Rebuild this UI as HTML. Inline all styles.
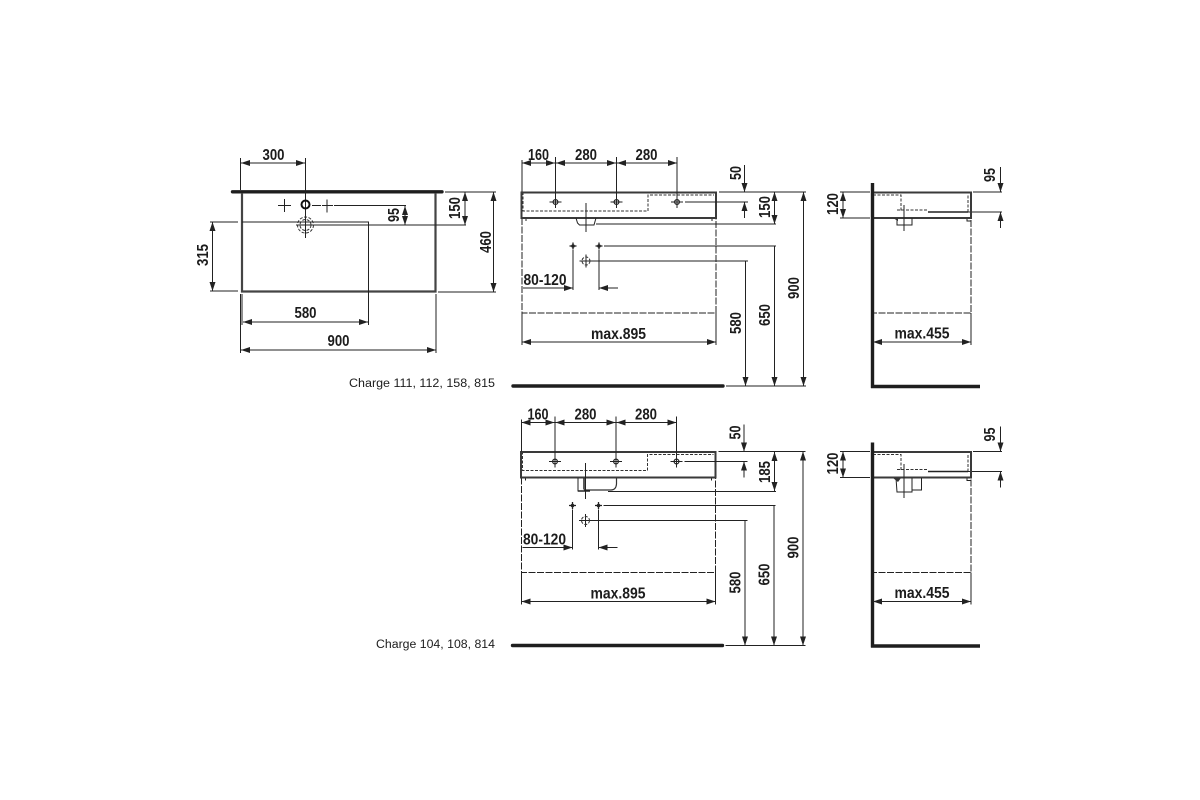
<!DOCTYPE html>
<html><head><meta charset="utf-8"><title>Technical drawing</title>
<style>
html,body{margin:0;padding:0;background:#fff;width:1200px;height:800px;overflow:hidden}
svg{display:block}
text{font-family:"Liberation Sans",sans-serif;fill:#1c1c1c}
.d{font-weight:bold;font-size:15.5px;text-anchor:middle}
.c{font-size:11.5px;text-anchor:end}
.l{fill:none;stroke:#222;stroke-width:1}
.a{fill:none;stroke:#222;stroke-width:1;marker-end:url(#ar)}
.b{fill:none;stroke:#222;stroke-width:1;marker-start:url(#ar2);marker-end:url(#ar)}
.t{fill:none;stroke:#3a3a3a;stroke-width:2}
.h{fill:none;stroke:#1e1e1e;stroke-width:3.4;stroke-linecap:round}
.w{fill:none;stroke:#222;stroke-width:1;stroke-dasharray:7 1.5}
.s{fill:none;stroke:#333;stroke-width:1;stroke-dasharray:3 1.5}
</style></head><body>
<svg width="1200" height="800" viewBox="0 0 1200 800" xmlns="http://www.w3.org/2000/svg">
<defs>
<marker id="ar" markerUnits="userSpaceOnUse" markerWidth="10" markerHeight="6" refX="9" refY="3" orient="auto"><path d="M0 0L9 3L0 6z" fill="#222"/></marker>
<marker id="ar2" markerUnits="userSpaceOnUse" markerWidth="10" markerHeight="6" refX="0" refY="3" orient="auto"><path d="M9 0L0 3L9 6z" fill="#222"/></marker>
<g id="hx"><path class="l" d="M-6 0H6M0-6V6"/><circle r="2.4" fill="none" stroke="#222" stroke-width="1.2"/></g>
<g id="sx"><path class="l" d="M-3.500 0H3.500M0-3.500V3.500" style="stroke-width:1.300"/><circle r="1.800" fill="#222"/></g>
<g id="bx"><path class="l" d="M-6.500 0H6.500M0-6.500V6.500"/><circle r="4" class="s"/></g>
<g id="front">
<path class="s" d="M523 0V19H648V3H714"/>
<path class="w" d="M522 26V121H716V26"/>
<path class="l" d="M522 26h4v3M716 26h-4v3"/>
<use href="#hx" x="555.500" y="10"/><use href="#hx" x="616.500" y="10"/><use href="#hx" x="677" y="10"/>
<use href="#sx" x="573" y="54"/><use href="#sx" x="599" y="54"/><use href="#bx" x="586" y="69"/>
<path class="t" d="M521.500 26V0.500H716V26H521.500z"/>
<path class="l" d="M522-32V0M555.500-35V10M616.500-35V10M677-35V10"/>
<path class="b" d="M522-29H555"/><path class="b" d="M556-29H616"/><path class="b" d="M617-29H677"/>
<path class="l" d="M719 0H806M685 10H748"/>
<path class="a" d="M744.500-27V0"/><path class="a" d="M744.500 26V10"/>
<path class="l" d="M604 54H776M592 69H748"/>
<path class="a" d="M745.500 69V194"/><path class="a" d="M774.500 54V194"/><path class="b" d="M803.500 0V194"/>
<path class="l" d="M573 58V98M599 58V98M726 194H806M522 121V153M716 121V153"/>
<path class="a" d="M523 96H573"/><path class="a" d="M618 96H599"/>
<path class="b" d="M522 150H716"/>
<path class="h" d="M513 194H723"/>
<text class="d" textLength="21" lengthAdjust="spacingAndGlyphs" x="538.500" y="-32">160</text>
<text class="d" textLength="22" lengthAdjust="spacingAndGlyphs" x="586" y="-32">280</text>
<text class="d" textLength="22" lengthAdjust="spacingAndGlyphs" x="646.500" y="-32">280</text>
<text class="d" textLength="43" lengthAdjust="spacingAndGlyphs" x="545" y="93">80-120</text>
<text class="d" textLength="55" lengthAdjust="spacingAndGlyphs" x="618.500" y="147">max.895</text>
<text class="d" textLength="14" lengthAdjust="spacingAndGlyphs" transform="translate(741,-19) rotate(-90)">50</text>
<text class="d" textLength="22" lengthAdjust="spacingAndGlyphs" transform="translate(741,131) rotate(-90)">580</text>
<text class="d" textLength="22" lengthAdjust="spacingAndGlyphs" transform="translate(770,123) rotate(-90)">650</text>
<text class="d" textLength="22" lengthAdjust="spacingAndGlyphs" transform="translate(799,96) rotate(-90)">900</text>
</g>
<g id="side">
<path class="s" d="M873 3H901V18H897M897 18H928"/>
<path class="s" d="M968 20V3"/>
<path class="l" d="M928 20H1002M973 0H1002"/>
<path d="M928 20H968" stroke="#222" stroke-width="1.600"/>
<path class="w" d="M971 28V121H873"/>
<path class="l" d="M967 26v3h4"/>
<path class="t" d="M873 0.500H971V26H873"/>
<path class="h" style="stroke-linecap:butt" d="M872.500-9V196M871 194.500H980"/>
<path class="a" d="M1000.500-25V0"/><path class="a" d="M1000.500 36V20"/>
<path class="b" d="M843 0V26"/>
<path class="l" d="M840 0H870M840 26H870M971 121V153"/>
<path class="b" d="M873 150H971"/>
<text class="d" textLength="14" lengthAdjust="spacingAndGlyphs" transform="translate(995,-17) rotate(-90)">95</text>
<text class="d" textLength="22" lengthAdjust="spacingAndGlyphs" transform="translate(838,12) rotate(-90)">120</text>
<text class="d" textLength="55" lengthAdjust="spacingAndGlyphs" x="922" y="146.500">max.455</text>
</g>
</defs>

<!-- Top view -->
<path class="h" d="M232.500 191.800H442"/>
<path d="M242 193V291.500H435.500V193" fill="none" stroke="#444" stroke-width="2.200"/>
<path class="l" d="M242 222H368.500V291"/>
<path class="l" d="M240.500 158V190M305.500 158V236M368.500 291V325M242 294V325M240.500 294V353M436 294V353M210 222H238M210 291H238M445 192H496M438 292H496M296 225H320M312 205.500H321M334 205.500H406M320 225H466"/>
<circle cx="305.500" cy="204.500" r="4" fill="none" stroke="#111" stroke-width="2"/>
<path class="l" d="M278 205.500H291M284.500 199V212M322 205.500H333M327 199.500V212.500"/>
<circle cx="305.500" cy="225" r="8" class="s"/><circle cx="305.500" cy="225" r="5.500" class="s"/>
<path class="l" d="M305.500 217V238"/>
<path class="b" d="M241 163H305"/>
<path class="b" d="M243 322H368"/>
<path class="b" d="M241 350H436"/>
<path class="b" d="M212.500 222V291"/>
<path class="b" d="M465 192V225"/>
<path class="b" d="M493.500 192V292"/>
<path class="b" d="M405 206V225"/>
<text class="d" textLength="22" lengthAdjust="spacingAndGlyphs" x="273.500" y="160">300</text>
<text class="d" textLength="22" lengthAdjust="spacingAndGlyphs" x="305.500" y="318">580</text>
<text class="d" textLength="22" lengthAdjust="spacingAndGlyphs" x="338.500" y="346">900</text>
<text class="d" textLength="22" lengthAdjust="spacingAndGlyphs" transform="translate(208,255) rotate(-90)">315</text>
<text class="d" textLength="14" lengthAdjust="spacingAndGlyphs" transform="translate(399,215) rotate(-90)">95</text>
<text class="d" textLength="22" lengthAdjust="spacingAndGlyphs" transform="translate(460,208) rotate(-90)">150</text>
<text class="d" textLength="22" lengthAdjust="spacingAndGlyphs" transform="translate(491,242) rotate(-90)">460</text>

<!-- Row 1 -->
<use href="#front" x="0" y="192"/>
<use href="#side" x="0" y="192"/>
<path class="l" d="M576 218l1.500 5 2 2H594l2-7M586 203V232M596 224H776"/>
<path class="l" d="M897 218V225H912V218M904 205V231"/>
<path d="M893 218l5 3 0-3z" fill="#333"/>
<path class="b" d="M774.500 192V224"/>
<text class="d" textLength="22" lengthAdjust="spacingAndGlyphs" transform="translate(770,207) rotate(-90)">150</text>
<text class="c" x="495" y="387" textLength="146" lengthAdjust="spacingAndGlyphs">Charge 111, 112, 158, 815</text>

<!-- Row 2 -->
<use href="#front" x="-0.500" y="451.500"/>
<use href="#side" x="0" y="451.500"/>
<path class="l" d="M578 478V491H584"/>
<path d="M584 478V489.500" fill="none" stroke="#222" stroke-width="1.500"/>
<path d="M584 490H611Q616 490 616.500 484V478" fill="none" stroke="#333" stroke-width="1.200"/>
<path d="M578 491H590" fill="none" stroke="#222" stroke-width="1.500"/>
<path class="l" d="M585.500 463V499M608 491.500H776"/>
<path class="l" d="M896 478L897 492H912V478M912 490H921.500V478M904 464V498"/>
<path d="M893 478h8l-3 4z" fill="#333"/>
<path class="b" d="M774.500 452V491"/>
<text class="d" textLength="22" lengthAdjust="spacingAndGlyphs" transform="translate(770,472) rotate(-90)">185</text>
<text class="c" x="495" y="648" textLength="119" lengthAdjust="spacingAndGlyphs">Charge 104, 108, 814</text>
</svg>
</body></html>
